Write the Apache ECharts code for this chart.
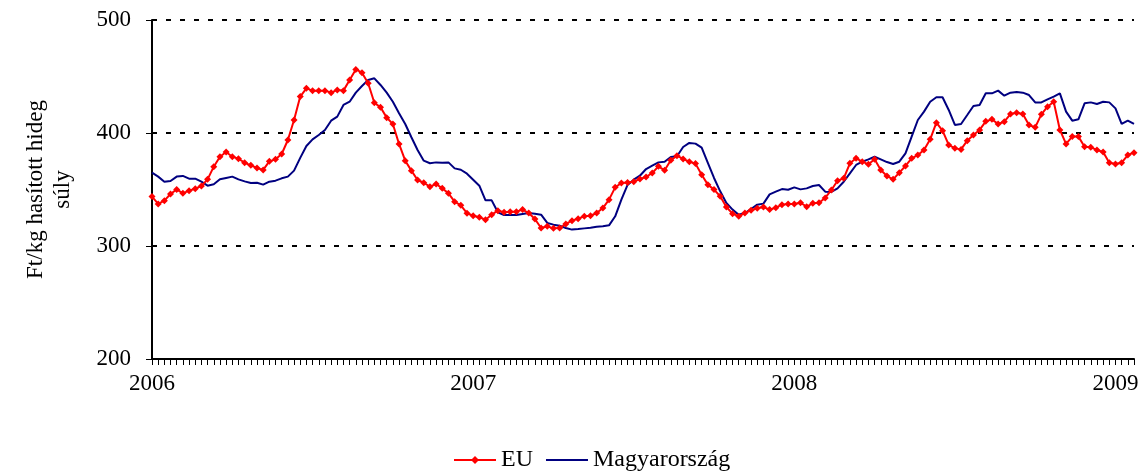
<!DOCTYPE html>
<html>
<head>
<meta charset="utf-8">
<script src="https://cdn.jsdelivr.net/npm/echarts@6/dist/echarts.min.js"></script>
<style>
  html, body { margin: 0; padding: 0; background: #fff; }
  #main { width: 1145px; height: 472px; }
</style>
</head>
<body>
<div id="main"></div>
<script>
// heti adatok, 2006 1. hét -> 2009 4. hét
var yearLabels = ['2006', '2007', '2008', '2009'];
var yearIndex = [0, 52, 104, 156];

var euValues = [
  343.7, 337.2, 340.1, 346, 350.1, 346.6, 349, 350.7, 353.1, 359,
  370.2, 379, 383.2, 379, 377.3, 373.7, 371.4, 369, 367.3, 374.9,
  376.7, 381.4, 393.8, 411.5, 432.2, 439.5, 437.5, 437.5, 437.5, 435.7,
  438.1, 437.5, 446.9, 456.3, 453.4, 444, 426.8, 422.7, 413.6, 408,
  390.3, 375.5, 366.7, 358.4, 356, 352.5, 354.9, 351, 346.6, 339.2,
  336, 329, 326.8, 325.4, 323.3, 327.7, 331.3, 329.8, 330.4, 330.4,
  332.2, 329.2, 323.9, 315.9, 317.4, 315.6, 315.9, 319.5, 322.4, 324.2,
  326.3, 326.8, 329.2, 333.6, 341, 351.9, 355.8, 356.3, 356.9, 359.3,
  361.1, 364.6, 370.5, 367, 375.8, 379.9, 377, 374.6, 372.9, 363.1,
  354.3, 349.9, 344, 334.5, 328.6, 326.3, 329.2, 331.6, 333.4, 334.5,
  332.2, 333.9, 336.6, 337.2, 337.2, 338.3, 334.8, 337.8, 338.3, 342.5,
  349.6, 357.8, 359.9, 373.2, 377.6, 374.6, 372.3, 376.7, 367.3, 361.9,
  359, 364.9, 370.8, 377.6, 380.5, 385, 394.4, 409.1, 402.1, 389.4,
  386.4, 385.5, 393.2, 398.2, 402.7, 410.3, 412.1, 408, 410, 416.8,
  418, 416.8, 407.1, 405, 416.5, 423.3, 427.7, 402.7, 390.3, 396.8,
  396.8, 387.9, 387.3, 385, 383.2, 373.7, 372.6, 373.7, 380.5, 382.6
];

var huValues = [
  364.9, 361.4, 356.9, 357.5, 361.4, 362, 359.6, 359.6, 356.9, 353.4,
  354.6, 359, 360.2, 361.4, 359, 357.2, 355.8, 356, 354.3, 356.9,
  357.8, 359.9, 361.4, 366.7, 378, 388.5, 394.4, 398.2, 402.7, 410.9,
  414.5, 424.8, 427.7, 435.7, 441.6, 446.9, 448.4, 442.5, 435.7, 427.7,
  417.4, 408, 396.2, 385, 375.5, 373.2, 374, 373.7, 374, 368.7,
  367.5, 364, 358.7, 353.4, 340.4, 340.4, 329.8, 327.4, 327.4, 327.4,
  328.3, 329.2, 328.6, 327.7, 320.4, 318.9, 318, 315.9, 314.5, 315,
  315.6, 316.2, 317.1, 317.4, 318.3, 326.3, 341, 354, 358.7, 362.2,
  368.1, 371.1, 374, 374.6, 378.8, 379.4, 387.6, 391.2, 390.6, 387,
  373.5, 360.2, 348.4, 338.1, 332.2, 327.7, 329.2, 332.7, 336.6, 337.5,
  345.7, 348.1, 350.4, 349.8, 351.9, 350.1, 351, 353.1, 354, 348.1,
  347.8, 351, 356.9, 364.3, 371.7, 374.6, 376.7, 379, 376.7, 374.3,
  372.6, 374.6, 382, 396.8, 411.5, 418.9, 427.7, 431.6, 431.6, 420.4,
  407.1, 408, 415.9, 423.9, 424.8, 435.1, 435.1, 437.5, 433, 435.7,
  436.3, 435.7, 433.6, 427.1, 427.1, 429.8, 432.2, 435.1, 418.9, 410.9,
  412.1, 426.3, 427.1, 425.7, 427.7, 427.1, 421.8, 408, 410.9, 408
];

// kategóriák: hetek sorszáma
var weeks = [];
for (var i = 0; i < euValues.length; i++) {
  weeks.push('w' + i);
}

var font = '"Liberation Serif", "Times New Roman", serif';

var myChart = echarts.init(document.getElementById('main'));
var option = {
  animation: false,
  textStyle: { fontFamily: font, color: '#000' },
  grid: { left: 152, right: 11, top: 20, bottom: 113 },
  legend: {
    left: 448,
    top: 443,
    itemWidth: 42,
    itemHeight: 10,
    itemGap: 12,
    textStyle: { fontFamily: font, fontSize: 24, color: '#000' },
    data: [
      { name: 'EU' },
      { name: 'Magyarország', itemStyle: { opacity: 0 } }
    ]
  },
  xAxis: {
    type: 'category',
    boundaryGap: false,
    data: weeks,
    axisLine: { lineStyle: { color: '#000', width: 2 } },
    axisTick: { show: true, interval: 0, length: 6, lineStyle: { color: '#000', width: 1 } },
    axisLabel: {
      interval: function (idx) { return yearIndex.indexOf(idx) >= 0; },
      formatter: function (val, idx) {
        var k = yearIndex.indexOf(idx);
        return k >= 0 ? yearLabels[k] : '';
      },
      margin: 13,
      fontFamily: font,
      fontSize: 23,
      color: '#000'
    },
    splitLine: { show: false }
  },
  yAxis: {
    type: 'value',
    min: 200,
    max: 500,
    interval: 100,
    name: 'Ft/kg hasított hideg\nsúly',
    nameLocation: 'middle',
    nameGap: 76,
    nameTextStyle: { fontFamily: font, fontSize: 23, color: '#000', lineHeight: 27 },
    axisLine: { show: true, lineStyle: { color: '#000', width: 2 } },
    axisTick: { show: true, length: 6, lineStyle: { color: '#000', width: 1 } },
    axisLabel: { margin: 21, fontFamily: font, fontSize: 23, color: '#000' },
    splitLine: { show: true, lineStyle: { color: '#000', width: 2, type: [5, 9] } }
  },
  series: [
    {
      name: 'EU',
      type: 'line',
      data: euValues,
      symbol: 'diamond',
      symbolSize: 7,
      showAllSymbol: true,
      itemStyle: { color: '#ff0000' },
      lineStyle: { color: '#ff0000', width: 2 },
      z: 3
    },
    {
      name: 'Magyarország',
      type: 'line',
      data: huValues,
      symbol: 'none',
      itemStyle: { color: '#000080' },
      lineStyle: { color: '#000080', width: 2 },
      z: 2
    }
  ]
};
myChart.setOption(option);
</script>
</body>
</html>
